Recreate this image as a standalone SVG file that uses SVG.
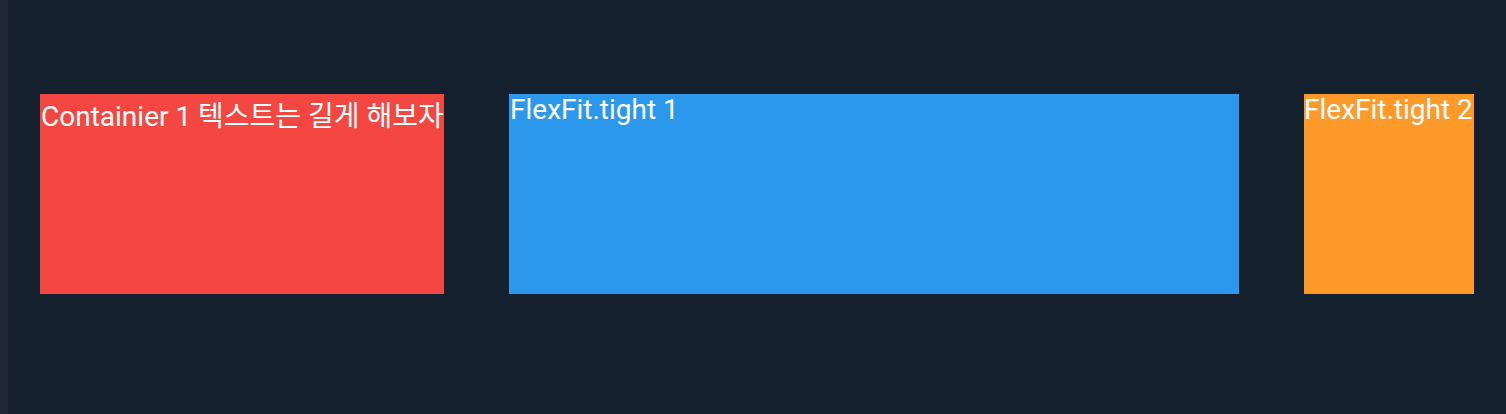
<svg xmlns="http://www.w3.org/2000/svg" width="1506" height="414" viewBox="0 0 1506 414">
<style>
.lbl{font-family:Roboto,"Noto Sans CJK KR",sans-serif;font-size:28px;fill:#ffffff}
</style>
<rect x="0" y="0" width="1506" height="414" fill="#15202e"/>
<rect x="0" y="0" width="8" height="414" fill="#1d2834"/>
<g id="container1">
<rect x="40" y="94" width="404" height="200" fill="#f44741"/>
<text class="lbl" x="41" y="126">Containier 1 텍스트는 길게 해보자</text>
</g>
<g id="flexfit1">
<rect x="509" y="94" width="730" height="200" fill="#2b98ee"/>
<text class="lbl" x="510" y="119">FlexFit.tight 1</text>
</g>
<g id="flexfit2">
<rect x="1304" y="94" width="170" height="200" fill="#fe9a2a"/>
<text class="lbl" x="1304" y="119">FlexFit.tight 2</text>
</g>
<g id="connectors"/>
</svg>
